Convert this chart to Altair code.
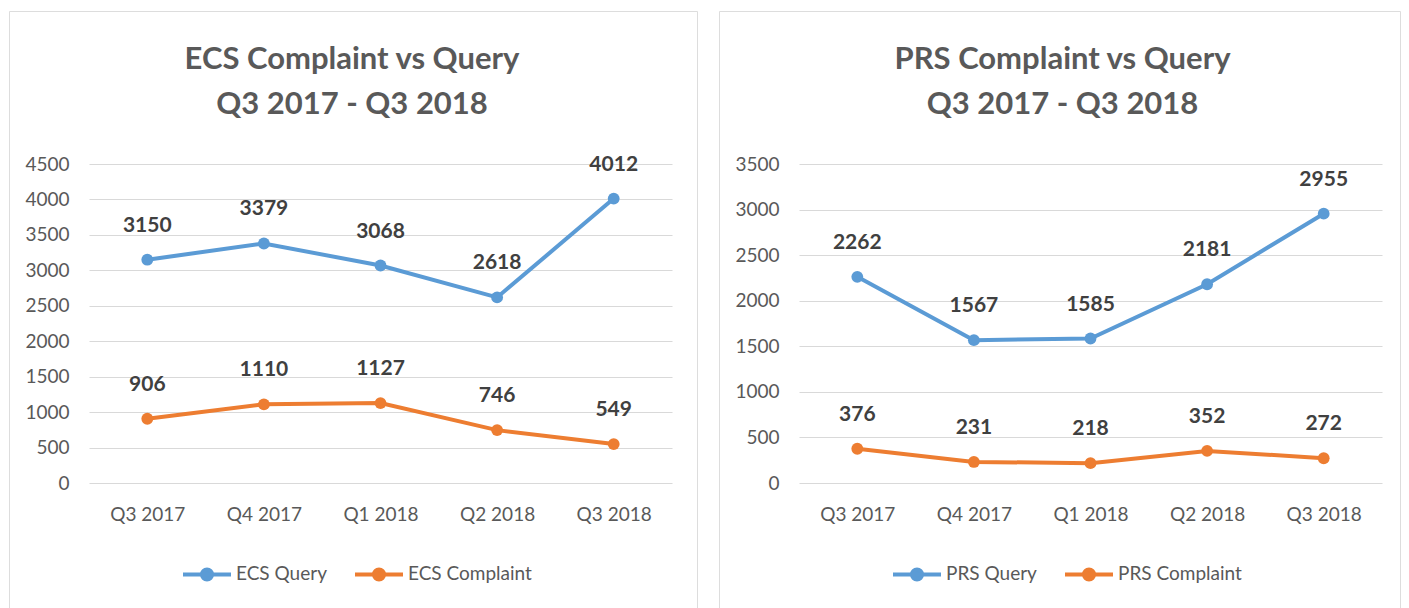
import altair as alt
import pandas as pd

quarters = ["Q3 2017", "Q4 2017", "Q1 2018", "Q2 2018", "Q3 2018"]

ecs_series = ["ECS Query", "ECS Complaint"]
ecs_query = [3150, 3379, 3068, 2618, 4012]
ecs_complaint = [906, 1110, 1127, 746, 549]
ecs_ticks = [0, 500, 1000, 1500, 2000, 2500, 3000, 3500, 4000, 4500]

prs_series = ["PRS Query", "PRS Complaint"]
prs_query = [2262, 1567, 1585, 2181, 2955]
prs_complaint = [376, 231, 218, 352, 272]
prs_ticks = [0, 500, 1000, 1500, 2000, 2500, 3000, 3500]

title_line2 = "Q3 2017 - Q3 2018"
series_colors = ["#5B9BD5", "#ED7D31"]

FONT = "Lato"
GREY = "#595959"
SYMBOL = "M-1,0L1,0M0.21,0A0.21,0.21,0,1,1,-0.21,0A0.21,0.21,0,1,1,0.21,0Z"
PANEL_H = 600


def panel(title, series, a_vals, b_vals, ticks, panel_w, title_dx):
    df = pd.DataFrame({
        "quarter": quarters * 2,
        "series": [series[0]] * len(quarters) + [series[1]] * len(quarters),
        "value": a_vals + b_vals,
    })
    x = alt.X(
        "quarter:N", sort=quarters,
        scale=alt.Scale(type="point", range=[80, 663], padding=0.5),
        axis=alt.Axis(title=None, orient="bottom", offset=-(PANEL_H - 472), domain=False,
                      ticks=False, grid=False, labelAngle=0, labelPadding=22,
                      labelFont=FONT, labelFontSize=19, labelColor=GREY),
    )
    y = alt.Y(
        "value:Q",
        scale=alt.Scale(domain=[ticks[0], ticks[-1]], range=[472, 153], nice=False),
        axis=alt.Axis(title=None, values=ticks, format="d", offset=-80, domain=False,
                      ticks=False, grid=True, gridColor="#D9D9D9", gridWidth=1,
                      labelPadding=20, labelFont=FONT, labelFontSize=19, labelColor=GREY),
    )
    legend = alt.Legend(
        orient="none", legendX=172, legendY=537, direction="horizontal", title=None,
        symbolType=SYMBOL, symbolSize=2304, symbolStrokeWidth=4, symbolOpacity=1,
        labelFont=FONT, labelFontSize=19, labelColor=GREY, labelOffset=3,
        columnPadding=20,
    )
    color = alt.Color("series:N", scale=alt.Scale(domain=series, range=series_colors),
                      legend=legend)
    base = alt.Chart(df).encode(x=x, y=y)
    lines = base.mark_line(strokeWidth=4,
                           point=alt.OverlayMarkDef(filled=True, size=140, opacity=1)
                           ).encode(color=color, detail="series:N")
    labels = base.mark_text(dy=-34, font=FONT, fontSize=21, fontWeight="bold",
                            color="#404040", baseline="middle").encode(text="value:Q")
    return alt.layer(lines, labels).properties(
        width=panel_w, height=PANEL_H,
        title=alt.TitleParams(text=[title, title_line2], anchor="middle", frame="group",
                              orient="top", offset=-134, baseline="alphabetic",
                              dx=title_dx, lineHeight=45, font=FONT, fontSize=31,
                              fontWeight="bold", color=GREY),
    )


left = panel("ECS Complaint vs Query", ecs_series, ecs_query, ecs_complaint, ecs_ticks, 688, -1)
right = panel("PRS Complaint vs Query", prs_series, prs_query, prs_complaint, prs_ticks, 681, 3)

chart = alt.hconcat(left, right, spacing=20).resolve_scale(
    color="independent", x="independent", y="independent"
).properties(
    padding={"left": 0, "top": 2, "right": 0, "bottom": 0}
).configure_view(
    stroke="#D9D9D9", strokeWidth=2
).configure(background="white")

chart.save("out.html", embed_options={"renderer": "svg", "actions": False})
